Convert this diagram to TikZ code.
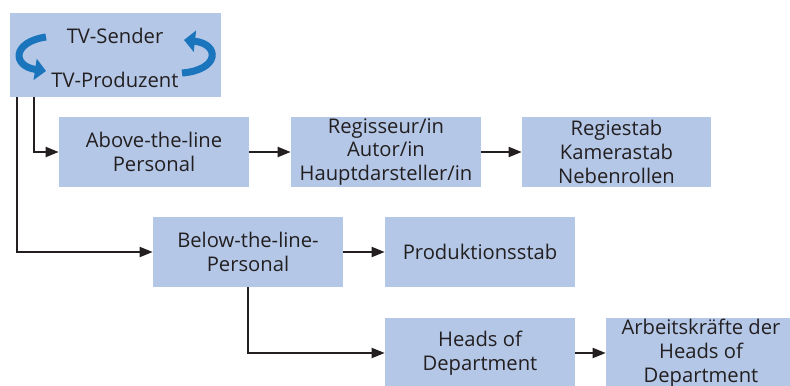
\documentclass[tikz,border=0pt]{standalone}
\usepackage{fontspec}
\setmainfont{Open Sans}
\usetikzlibrary{arrows.meta}
\definecolor{boxblue}{HTML}{B4C7E7}
\definecolor{arrowblue}{HTML}{1A75BC}
\definecolor{ink}{HTML}{231F20}
\tikzset{
  box/.style={fill=boxblue, text=ink, align=center, inner sep=0pt,
    minimum width=3.8cm, minimum height=1.4cm, font=\fontsize{11.5}{13.5}\selectfont},
  arr/.style={-{Triangle[length=0.26cm,width=0.2cm]}, ink, line width=1.1pt},
  turn/.style={-{Triangle[length=0.22cm,width=0.42cm]}, arrowblue, line width=4pt}
}
\begin{document}
\begin{tikzpicture}[x=0.02cm,y=-0.02cm]
			\useasboundingbox (0,0) rectangle (790,385);
			\clip (0,0) rectangle (790,385);
			% boxes
			\node [box, minimum width=4.22cm, minimum height=1.68cm] (tv) at (115.5,55) {};
			\node [ink, font=\fontsize{11.5}{13.5}\selectfont] (sender) at (115,36) {TV-Sender};
			\node [ink, font=\fontsize{11.5}{13.5}\selectfont] (produzent) at (115,80) {TV-Produzent};
			\node [box] (above) at (154,152) {Above-the-line\\Personal};
			\node [box] (regie) at (386,152) {Regisseur/in\\Autor/in\\Hauptdarsteller/in};
			\node [box, minimum width=3.78cm] (stab) at (616.5,152) {Regiestab\\Kamerastab\\Nebenrollen};
			\node [box] (below) at (248,252) {Below-the-line-\\Personal};
			\node [box] (prod) at (480,252) {Produktionsstab};
			\node [box] (heads) at (480,353) {Heads of\\Department};
			\node [box] (arbeit) at (701,353) {Arbeitskr\"afte der\\Heads of\\Department};
			% round arrows
			\draw [turn] (46,37) .. controls (12,42) and (12,66) .. (46,71);
			\draw [turn] (182,73) .. controls (220,70) and (220,44) .. (184,40);
			% connectors
			\draw [arr] ([xshift=0.14cm]tv.south west) |- (below.west);
			\draw [arr] ([xshift=0.48cm]tv.south west) |- (above.west);
			\draw [arr] (above) -- (regie);
			\draw [arr] (regie) -- (stab);
			\draw [arr] (below) -- (prod);
			\draw [arr] (below.south) |- (heads.west);
			\draw [arr] (heads) -- (arbeit);
		\end{tikzpicture}
\end{document}
